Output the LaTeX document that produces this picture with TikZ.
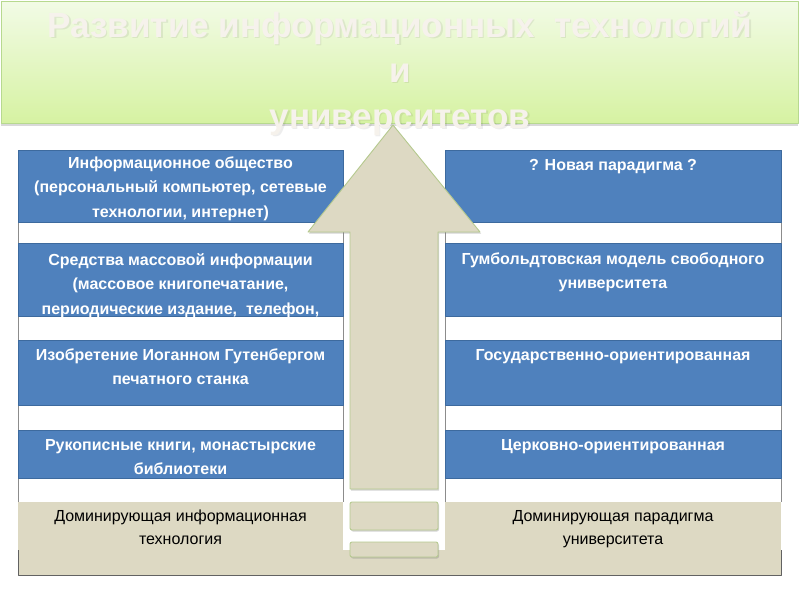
\documentclass[tikz,border=0pt]{standalone}
\usepackage{fontspec}
\setmainfont{Liberation Sans}
\usetikzlibrary{shadows}
\definecolor{cellblue}{HTML}{4F81BD}
\definecolor{celledge}{HTML}{3D6A9E}
\definecolor{cellbeige}{HTML}{DDD9C3}
\definecolor{arrowedge}{HTML}{B5C98E}
\definecolor{titletop}{HTML}{F2FBE6}
\definecolor{titlebottom}{HTML}{D6F2A2}
\definecolor{titleedge}{HTML}{B7D98F}
\definecolor{titleink}{HTML}{F6F2EC}
\definecolor{rulegrey}{HTML}{8C8C8C}
\begin{document}
\begin{tikzpicture}[x=1pt,y=-1pt,line join=round,
  bluecell/.style={fill=cellblue,draw=celledge,line width=.6pt},
  beigecell/.style={fill=cellbeige},
  arrowpart/.style={fill=cellbeige,draw=arrowedge,line width=.9pt,
    drop shadow={shadow xshift=1pt,shadow yshift=-1.5pt,opacity=.35}},
  celltext/.style={anchor=north,inner sep=0pt,align=center,text=white,
    font=\fontsize{16}{24.5}\selectfont\bfseries},
  basetext/.style={anchor=north,inner sep=0pt,align=center,text=black,
    font=\fontsize{16}{23}\selectfont},
  titletext/.style={anchor=base,inner sep=0pt,font=\fontsize{35}{40}\selectfont\bfseries}]
  \useasboundingbox (0,0) rectangle (800,600);
  % Title banner with faint lettering.
  \shade[top color=titletop,bottom color=titlebottom,draw=titleedge,line width=.8pt,
    drop shadow={shadow xshift=0pt,shadow yshift=-3pt,opacity=.3}] (1,1) rectangle (798,123);

  % Table: left column (technologies), right column (university paradigms).
  \draw[rulegrey,line width=.8pt] (18,150) -- (18,575);
  \draw[rulegrey,line width=.8pt] (343,150) -- (343,502);
  \draw[rulegrey,line width=.8pt] (445,150) -- (445,502);
  \draw[rulegrey,line width=.8pt] (781,150) -- (781,502);
  \foreach \rtop/\rbot in {150/222,243/316,340/405,430/478}{
    \draw[bluecell] (18,\rtop) rectangle (343,\rbot);
    \draw[bluecell] (445,\rtop) rectangle (781,\rbot);
  }
  \fill[beigecell] (18,502) rectangle (343,550);
  \fill[beigecell] (445,502) rectangle (781,550);
  \fill[beigecell] (18,550) rectangle (781,575);
  \draw[rulegrey!70!black,line width=.9pt] (18,550) -- (18,575) -- (781,575) -- (781,550);

  \node[celltext] (tech4) at (180.5,151) {\strut Информационное общество\\(персональный компьютер, сетевые\\технологии, интернет)};
  \node[celltext] (tech3) at (180.5,248) {\strut Средства массовой информации\\(массовое книгопечатание,\\периодические издание,~ телефон,};
  \node[celltext] (tech2) at (180.5,343) {\strut Изобретение Иоганном Гутенбергом\\печатного станка};
  \node[celltext] (tech1) at (180.5,433) {\strut Рукописные книги, монастырские\\библиотеки};
  \node[celltext] (univ4) at (613,153) {\strut ? Новая парадигма ?};
  \node[celltext] (univ3) at (613,247) {\strut Гумбольдтовская модель свободного\\университета};
  \node[celltext] (univ2) at (613,343) {\strut Государственно-ориентированная};
  \node[celltext] (univ1) at (613,433) {\strut Церковно-ориентированная};
  \node[basetext] (techhead) at (180.5,505) {\strut Доминирующая информационная\\технология};
  \node[basetext] (univhead) at (613,505) {\strut Доминирующая парадигма\\университета};

  % Upward arrow and its two detached pieces.
  \draw[arrowpart] (393,125) -- (480,232) -- (438,232) -- (438,489) -- (350,489)
    -- (350,232) -- (308,232) -- cycle;
  \draw[arrowpart,rounded corners=2pt] (350,502) rectangle (438,530);
  \draw[arrowpart,rounded corners=2pt] (350,542) rectangle (438,557);

  % Title lettering (with a soft shadow).
  \foreach \tline/\ty/\tname in {Развитие информационных~ технологий/37/title1,и/82/title2,университетов/128/title3}{
    \node[titletext,text=black,opacity=.07] at (401.5,\ty+1.5) {\tline};
    \node[titletext,text=titleink] (\tname) at (400,\ty) {\tline};
  }
\end{tikzpicture}
\end{document}
